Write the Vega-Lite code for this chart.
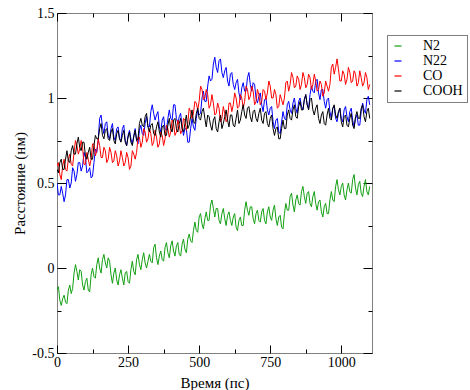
{
 "$schema": "https://vega.github.io/schema/vega-lite/v6.json",
 "width": 315, "height": 340,
 "autosize": {"type": "none"},
 "padding": {"left": 57, "top": 13, "right": 98, "bottom": 37},
 "background": "white",
 "config": {"view": {"stroke": "black", "strokeWidth": 1, "strokeDash": [1, 1]},
  "axis": {"labelFont": "Liberation Serif", "titleFont": "Liberation Serif", "titleFontWeight": "normal", "labelFontWeight": "normal", "labelColor": "black", "titleColor": "black"},
  "legend": {"strokeDash": [1, 1], "labelFont": "Liberation Serif"}},
 "data": {"values": [
  {"t":0,"N2":-0.13,"N22":0.5,"CO":0.6,"COOH":0.58},
  {"t":10,"N2":-0.19,"N22":0.43,"CO":0.55,"COOH":0.62},
  {"t":20,"N2":-0.18,"N22":0.44,"CO":0.6,"COOH":0.58},
  {"t":30,"N2":-0.2,"N22":0.43,"CO":0.58,"COOH":0.64},
  {"t":40,"N2":-0.13,"N22":0.52,"CO":0.64,"COOH":0.63},
  {"t":50,"N2":-0.15,"N22":0.5,"CO":0.61,"COOH":0.69},
  {"t":60,"N2":-0.03,"N22":0.57,"CO":0.68,"COOH":0.67},
  {"t":70,"N2":-0.02,"N22":0.55,"CO":0.72,"COOH":0.73},
  {"t":80,"N2":-0.01,"N22":0.62,"CO":0.7,"COOH":0.71},
  {"t":90,"N2":-0.1,"N22":0.6,"CO":0.71,"COOH":0.74},
  {"t":100,"N2":-0.08,"N22":0.65,"CO":0.61,"COOH":0.66},
  {"t":110,"N2":-0.13,"N22":0.57,"CO":0.64,"COOH":0.68},
  {"t":120,"N2":-0.04,"N22":0.53,"CO":0.64,"COOH":0.64},
  {"t":130,"N2":-0.05,"N22":0.62,"CO":0.73,"COOH":0.72},
  {"t":140,"N2":0.02,"N22":0.68,"CO":0.69,"COOH":0.76},
  {"t":150,"N2":0.0,"N22":0.88,"CO":0.72,"COOH":0.82},
  {"t":160,"N2":0.05,"N22":0.83,"CO":0.65,"COOH":0.78},
  {"t":170,"N2":0.03,"N22":0.85,"CO":0.69,"COOH":0.81},
  {"t":180,"N2":0.06,"N22":0.78,"CO":0.64,"COOH":0.76},
  {"t":190,"N2":-0.04,"N22":0.82,"CO":0.68,"COOH":0.8},
  {"t":200,"N2":-0.03,"N22":0.77,"CO":0.63,"COOH":0.75},
  {"t":210,"N2":-0.07,"N22":0.82,"CO":0.66,"COOH":0.79},
  {"t":220,"N2":-0.04,"N22":0.76,"CO":0.63,"COOH":0.76},
  {"t":230,"N2":-0.06,"N22":0.82,"CO":0.65,"COOH":0.78},
  {"t":240,"N2":-0.03,"N22":0.75,"CO":0.62,"COOH":0.74},
  {"t":250,"N2":-0.08,"N22":0.78,"CO":0.65,"COOH":0.77},
  {"t":260,"N2":-0.01,"N22":0.76,"CO":0.6,"COOH":0.74},
  {"t":270,"N2":-0.02,"N22":0.78,"CO":0.67,"COOH":0.77},
  {"t":280,"N2":0.05,"N22":0.75,"CO":0.68,"COOH":0.75},
  {"t":290,"N2":0.02,"N22":0.81,"CO":0.77,"COOH":0.85},
  {"t":300,"N2":0.05,"N22":0.79,"CO":0.74,"COOH":0.84},
  {"t":310,"N2":0.03,"N22":0.85,"CO":0.8,"COOH":0.89},
  {"t":320,"N2":0.04,"N22":0.83,"CO":0.76,"COOH":0.83},
  {"t":330,"N2":0.04,"N22":0.92,"CO":0.79,"COOH":0.84},
  {"t":340,"N2":0.12,"N22":0.91,"CO":0.74,"COOH":0.79},
  {"t":350,"N2":0.06,"N22":0.9,"CO":0.77,"COOH":0.83},
  {"t":360,"N2":0.07,"N22":0.83,"CO":0.73,"COOH":0.8},
  {"t":370,"N2":0.05,"N22":0.87,"CO":0.78,"COOH":0.83},
  {"t":380,"N2":0.12,"N22":0.82,"CO":0.76,"COOH":0.78},
  {"t":390,"N2":0.09,"N22":0.88,"CO":0.82,"COOH":0.84},
  {"t":400,"N2":0.13,"N22":0.88,"CO":0.8,"COOH":0.82},
  {"t":410,"N2":0.1,"N22":0.96,"CO":0.85,"COOH":0.87},
  {"t":420,"N2":0.13,"N22":0.88,"CO":0.8,"COOH":0.82},
  {"t":430,"N2":0.08,"N22":0.89,"CO":0.84,"COOH":0.85},
  {"t":440,"N2":0.14,"N22":0.83,"CO":0.81,"COOH":0.82},
  {"t":450,"N2":0.11,"N22":0.82,"CO":0.87,"COOH":0.85},
  {"t":460,"N2":0.17,"N22":0.74,"CO":0.85,"COOH":0.82},
  {"t":470,"N2":0.16,"N22":0.82,"CO":0.92,"COOH":0.89},
  {"t":480,"N2":0.22,"N22":0.83,"CO":0.91,"COOH":0.86},
  {"t":490,"N2":0.22,"N22":0.88,"CO":0.97,"COOH":0.91},
  {"t":500,"N2":0.3,"N22":0.9,"CO":0.98,"COOH":0.88},
  {"t":510,"N2":0.26,"N22":1.0,"CO":1.05,"COOH":0.92},
  {"t":520,"N2":0.29,"N22":0.98,"CO":1.0,"COOH":0.88},
  {"t":530,"N2":0.28,"N22":1.07,"CO":1.02,"COOH":0.9},
  {"t":540,"N2":0.37,"N22":1.1,"CO":0.96,"COOH":0.84},
  {"t":550,"N2":0.35,"N22":1.2,"CO":0.97,"COOH":0.87},
  {"t":560,"N2":0.35,"N22":1.18,"CO":0.91,"COOH":0.82},
  {"t":570,"N2":0.28,"N22":1.22,"CO":0.94,"COOH":0.86},
  {"t":580,"N2":0.32,"N22":1.15,"CO":0.88,"COOH":0.82},
  {"t":590,"N2":0.29,"N22":1.16,"CO":0.91,"COOH":0.89},
  {"t":600,"N2":0.31,"N22":1.1,"CO":0.88,"COOH":0.87},
  {"t":610,"N2":0.28,"N22":1.14,"CO":0.97,"COOH":0.9},
  {"t":620,"N2":0.3,"N22":1.08,"CO":0.96,"COOH":0.84},
  {"t":630,"N2":0.24,"N22":1.09,"CO":1.0,"COOH":0.88},
  {"t":640,"N2":0.28,"N22":1.03,"CO":0.95,"COOH":0.85},
  {"t":650,"N2":0.25,"N22":1.06,"CO":1.0,"COOH":0.92},
  {"t":660,"N2":0.34,"N22":1.04,"CO":0.98,"COOH":0.9},
  {"t":670,"N2":0.34,"N22":1.12,"CO":1.05,"COOH":0.94},
  {"t":680,"N2":0.36,"N22":1.08,"CO":1.01,"COOH":0.89},
  {"t":690,"N2":0.29,"N22":1.09,"CO":1.04,"COOH":0.92},
  {"t":700,"N2":0.32,"N22":1.0,"CO":0.98,"COOH":0.88},
  {"t":710,"N2":0.28,"N22":1.01,"CO":1.02,"COOH":0.91},
  {"t":720,"N2":0.33,"N22":0.96,"CO":0.98,"COOH":0.87},
  {"t":730,"N2":0.28,"N22":0.99,"CO":1.04,"COOH":0.91},
  {"t":740,"N2":0.33,"N22":0.93,"CO":1.03,"COOH":0.85},
  {"t":750,"N2":0.3,"N22":0.94,"CO":1.07,"COOH":0.88},
  {"t":760,"N2":0.34,"N22":0.86,"CO":1.0,"COOH":0.82},
  {"t":770,"N2":0.29,"N22":0.87,"CO":1.02,"COOH":0.82},
  {"t":780,"N2":0.3,"N22":0.8,"CO":0.95,"COOH":0.76},
  {"t":790,"N2":0.24,"N22":0.86,"CO":0.99,"COOH":0.82},
  {"t":800,"N2":0.32,"N22":0.88,"CO":1.0,"COOH":0.82},
  {"t":810,"N2":0.34,"N22":0.96,"CO":1.1,"COOH":0.9},
  {"t":820,"N2":0.42,"N22":0.93,"CO":1.08,"COOH":0.88},
  {"t":830,"N2":0.37,"N22":0.97,"CO":1.12,"COOH":0.93},
  {"t":840,"N2":0.4,"N22":0.94,"CO":1.07,"COOH":0.89},
  {"t":850,"N2":0.38,"N22":0.98,"CO":1.11,"COOH":0.95},
  {"t":860,"N2":0.45,"N22":0.95,"CO":1.08,"COOH":0.93},
  {"t":870,"N2":0.42,"N22":0.99,"CO":1.12,"COOH":0.99},
  {"t":880,"N2":0.44,"N22":0.96,"CO":1.08,"COOH":0.96},
  {"t":890,"N2":0.38,"N22":1.02,"CO":1.12,"COOH":0.99},
  {"t":900,"N2":0.42,"N22":1.04,"CO":1.08,"COOH":0.93},
  {"t":910,"N2":0.38,"N22":1.1,"CO":1.1,"COOH":0.94},
  {"t":920,"N2":0.39,"N22":1.03,"CO":1.05,"COOH":0.88},
  {"t":930,"N2":0.33,"N22":1.05,"CO":1.08,"COOH":0.9},
  {"t":940,"N2":0.36,"N22":0.98,"CO":1.03,"COOH":0.85},
  {"t":950,"N2":0.32,"N22":0.99,"CO":1.07,"COOH":0.9},
  {"t":960,"N2":0.4,"N22":0.92,"CO":1.08,"COOH":0.88},
  {"t":970,"N2":0.4,"N22":0.94,"CO":1.2,"COOH":0.94},
  {"t":980,"N2":0.48,"N22":0.88,"CO":1.18,"COOH":0.9},
  {"t":990,"N2":0.46,"N22":0.91,"CO":1.17,"COOH":0.92},
  {"t":1000,"N2":0.48,"N22":0.88,"CO":1.1,"COOH":0.86},
  {"t":1010,"N2":0.43,"N22":0.93,"CO":1.14,"COOH":0.89},
  {"t":1020,"N2":0.46,"N22":0.89,"CO":1.11,"COOH":0.84},
  {"t":1030,"N2":0.45,"N22":0.92,"CO":1.15,"COOH":0.88},
  {"t":1040,"N2":0.52,"N22":0.87,"CO":1.1,"COOH":0.84},
  {"t":1050,"N2":0.47,"N22":0.88,"CO":1.14,"COOH":0.89},
  {"t":1060,"N2":0.49,"N22":0.84,"CO":1.09,"COOH":0.88},
  {"t":1070,"N2":0.44,"N22":0.92,"CO":1.12,"COOH":0.94},
  {"t":1080,"N2":0.48,"N22":0.93,"CO":1.09,"COOH":0.89},
  {"t":1090,"N2":0.45,"N22":0.99,"CO":1.12,"COOH":0.92},
  {"t":1100,"N2":0.48,"N22":0.96,"CO":1.08,"COOH":0.88},
  {"t":5,"N2":-0.11,"N22":0.43,"CO":0.62,"COOH":0.56},
  {"t":15,"N2":-0.22,"N22":0.48,"CO":0.52,"COOH":0.64},
  {"t":25,"N2":-0.16,"N22":0.39,"CO":0.64,"COOH":0.58},
  {"t":35,"N2":-0.21,"N22":0.52,"CO":0.57,"COOH":0.69},
  {"t":45,"N2":-0.1,"N22":0.47,"CO":0.67,"COOH":0.62},
  {"t":55,"N2":-0.12,"N22":0.59,"CO":0.6,"COOH":0.72},
  {"t":65,"N2":0.02,"N22":0.51,"CO":0.75,"COOH":0.67},
  {"t":75,"N2":-0.07,"N22":0.62,"CO":0.67,"COOH":0.77},
  {"t":85,"N2":-0.02,"N22":0.57,"CO":0.75,"COOH":0.69},
  {"t":95,"N2":-0.13,"N22":0.68,"CO":0.61,"COOH":0.74},
  {"t":105,"N2":-0.06,"N22":0.56,"CO":0.68,"COOH":0.64},
  {"t":115,"N2":-0.14,"N22":0.59,"CO":0.6,"COOH":0.71},
  {"t":125,"N2":0.0,"N22":0.54,"CO":0.73,"COOH":0.64},
  {"t":135,"N2":-0.06,"N22":0.7,"CO":0.66,"COOH":0.78},
  {"t":145,"N2":0.06,"N22":0.75,"CO":0.76,"COOH":0.76},
  {"t":155,"N2":-0.03,"N22":0.9,"CO":0.65,"COOH":0.85},
  {"t":165,"N2":0.08,"N22":0.79,"CO":0.71,"COOH":0.76},
  {"t":175,"N2":0.0,"N22":0.86,"CO":0.62,"COOH":0.82},
  {"t":185,"N2":0.04,"N22":0.76,"CO":0.71,"COOH":0.75},
  {"t":195,"N2":-0.09,"N22":0.85,"CO":0.62,"COOH":0.82},
  {"t":205,"N2":0.0,"N22":0.75,"CO":0.69,"COOH":0.73},
  {"t":215,"N2":-0.1,"N22":0.83,"CO":0.6,"COOH":0.81},
  {"t":225,"N2":-0.01,"N22":0.75,"CO":0.69,"COOH":0.74},
  {"t":235,"N2":-0.1,"N22":0.84,"CO":0.6,"COOH":0.81},
  {"t":245,"N2":-0.02,"N22":0.72,"CO":0.68,"COOH":0.72},
  {"t":255,"N2":-0.09,"N22":0.81,"CO":0.58,"COOH":0.8},
  {"t":265,"N2":0.04,"N22":0.73,"CO":0.69,"COOH":0.72},
  {"t":275,"N2":-0.04,"N22":0.82,"CO":0.64,"COOH":0.81},
  {"t":285,"N2":0.08,"N22":0.73,"CO":0.77,"COOH":0.76},
  {"t":295,"N2":-0.01,"N22":0.84,"CO":0.71,"COOH":0.88},
  {"t":305,"N2":0.09,"N22":0.78,"CO":0.82,"COOH":0.83},
  {"t":315,"N2":0.0,"N22":0.89,"CO":0.74,"COOH":0.91},
  {"t":325,"N2":0.08,"N22":0.83,"CO":0.82,"COOH":0.8},
  {"t":335,"N2":0.03,"N22":0.96,"CO":0.72,"COOH":0.85},
  {"t":345,"N2":0.14,"N22":0.87,"CO":0.81,"COOH":0.78},
  {"t":355,"N2":0.02,"N22":0.92,"CO":0.71,"COOH":0.86},
  {"t":365,"N2":0.1,"N22":0.8,"CO":0.8,"COOH":0.77},
  {"t":375,"N2":0.04,"N22":0.89,"CO":0.72,"COOH":0.84},
  {"t":385,"N2":0.15,"N22":0.81,"CO":0.84,"COOH":0.78},
  {"t":395,"N2":0.06,"N22":0.93,"CO":0.77,"COOH":0.88},
  {"t":405,"N2":0.16,"N22":0.87,"CO":0.87,"COOH":0.8},
  {"t":415,"N2":0.07,"N22":0.96,"CO":0.78,"COOH":0.88},
  {"t":425,"N2":0.15,"N22":0.85,"CO":0.87,"COOH":0.8},
  {"t":435,"N2":0.07,"N22":0.91,"CO":0.79,"COOH":0.88},
  {"t":445,"N2":0.17,"N22":0.78,"CO":0.88,"COOH":0.8},
  {"t":455,"N2":0.09,"N22":0.82,"CO":0.81,"COOH":0.9},
  {"t":465,"N2":0.2,"N22":0.74,"CO":0.94,"COOH":0.84},
  {"t":475,"N2":0.15,"N22":0.88,"CO":0.88,"COOH":0.93},
  {"t":485,"N2":0.27,"N22":0.81,"CO":0.98,"COOH":0.85},
  {"t":495,"N2":0.21,"N22":0.93,"CO":0.93,"COOH":0.94},
  {"t":505,"N2":0.32,"N22":0.91,"CO":1.07,"COOH":0.87},
  {"t":515,"N2":0.23,"N22":1.04,"CO":0.99,"COOH":0.94},
  {"t":525,"N2":0.33,"N22":0.98,"CO":1.05,"COOH":0.83},
  {"t":535,"N2":0.28,"N22":1.13,"CO":0.94,"COOH":0.89},
  {"t":545,"N2":0.4,"N22":1.11,"CO":1.02,"COOH":0.81},
  {"t":555,"N2":0.3,"N22":1.24,"CO":0.9,"COOH":0.89},
  {"t":565,"N2":0.35,"N22":1.15,"CO":0.97,"COOH":0.8},
  {"t":575,"N2":0.26,"N22":1.23,"CO":0.86,"COOH":0.9},
  {"t":585,"N2":0.35,"N22":1.12,"CO":0.95,"COOH":0.85},
  {"t":595,"N2":0.25,"N22":1.18,"CO":0.86,"COOH":0.93},
  {"t":605,"N2":0.33,"N22":1.07,"CO":0.97,"COOH":0.83},
  {"t":615,"N2":0.25,"N22":1.15,"CO":0.92,"COOH":0.9},
  {"t":625,"N2":0.32,"N22":1.05,"CO":1.03,"COOH":0.83},
  {"t":635,"N2":0.22,"N22":1.11,"CO":0.94,"COOH":0.93},
  {"t":645,"N2":0.3,"N22":0.99,"CO":1.02,"COOH":0.87},
  {"t":655,"N2":0.25,"N22":1.09,"CO":0.94,"COOH":0.96},
  {"t":665,"N2":0.39,"N22":1.04,"CO":1.07,"COOH":0.88},
  {"t":675,"N2":0.31,"N22":1.15,"CO":0.99,"COOH":0.95},
  {"t":685,"N2":0.36,"N22":1.04,"CO":1.07,"COOH":0.86},
  {"t":695,"N2":0.26,"N22":1.08,"CO":0.96,"COOH":0.93},
  {"t":705,"N2":0.34,"N22":0.97,"CO":1.05,"COOH":0.86},
  {"t":715,"N2":0.27,"N22":1.03,"CO":0.96,"COOH":0.94},
  {"t":725,"N2":0.35,"N22":0.92,"CO":1.05,"COOH":0.85},
  {"t":735,"N2":0.26,"N22":1.0,"CO":0.99,"COOH":0.92},
  {"t":745,"N2":0.36,"N22":0.9,"CO":1.1,"COOH":0.83},
  {"t":755,"N2":0.28,"N22":0.95,"CO":1.0,"COOH":0.9},
  {"t":765,"N2":0.37,"N22":0.82,"CO":1.05,"COOH":0.78},
  {"t":775,"N2":0.25,"N22":0.88,"CO":0.94,"COOH":0.83},
  {"t":785,"N2":0.31,"N22":0.79,"CO":1.02,"COOH":0.76},
  {"t":795,"N2":0.23,"N22":0.92,"CO":0.96,"COOH":0.87},
  {"t":805,"N2":0.38,"N22":0.87,"CO":1.09,"COOH":0.82},
  {"t":815,"N2":0.34,"N22":0.98,"CO":1.04,"COOH":0.93},
  {"t":825,"N2":0.44,"N22":0.91,"CO":1.15,"COOH":0.87},
  {"t":835,"N2":0.33,"N22":1.0,"CO":1.06,"COOH":0.96},
  {"t":845,"N2":0.43,"N22":0.91,"CO":1.13,"COOH":0.88},
  {"t":855,"N2":0.37,"N22":1.0,"CO":1.05,"COOH":0.98},
  {"t":865,"N2":0.48,"N22":0.93,"CO":1.15,"COOH":0.93},
  {"t":875,"N2":0.38,"N22":1.02,"CO":1.06,"COOH":1.02},
  {"t":885,"N2":0.45,"N22":0.94,"CO":1.14,"COOH":0.93},
  {"t":895,"N2":0.36,"N22":1.07,"CO":1.05,"COOH":1.0},
  {"t":905,"N2":0.45,"N22":1.03,"CO":1.14,"COOH":0.9},
  {"t":915,"N2":0.34,"N22":1.11,"CO":1.04,"COOH":0.96},
  {"t":925,"N2":0.4,"N22":0.99,"CO":1.1,"COOH":0.85},
  {"t":935,"N2":0.3,"N22":1.05,"CO":1.01,"COOH":0.92},
  {"t":945,"N2":0.38,"N22":0.94,"CO":1.1,"COOH":0.84},
  {"t":955,"N2":0.32,"N22":1.0,"CO":1.04,"COOH":0.94},
  {"t":965,"N2":0.45,"N22":0.88,"CO":1.18,"COOH":0.87},
  {"t":975,"N2":0.39,"N22":0.95,"CO":1.14,"COOH":0.96},
  {"t":985,"N2":0.52,"N22":0.86,"CO":1.23,"COOH":0.88},
  {"t":995,"N2":0.43,"N22":0.94,"CO":1.1,"COOH":0.94},
  {"t":1005,"N2":0.5,"N22":0.86,"CO":1.16,"COOH":0.83},
  {"t":1015,"N2":0.4,"N22":0.95,"CO":1.08,"COOH":0.9},
  {"t":1025,"N2":0.5,"N22":0.86,"CO":1.18,"COOH":0.83},
  {"t":1035,"N2":0.44,"N22":0.94,"CO":1.09,"COOH":0.91},
  {"t":1045,"N2":0.55,"N22":0.83,"CO":1.16,"COOH":0.82},
  {"t":1055,"N2":0.43,"N22":0.9,"CO":1.07,"COOH":0.92},
  {"t":1065,"N2":0.51,"N22":0.84,"CO":1.16,"COOH":0.88},
  {"t":1075,"N2":0.42,"N22":0.97,"CO":1.07,"COOH":0.96},
  {"t":1085,"N2":0.52,"N22":0.91,"CO":1.15,"COOH":0.86},
  {"t":1095,"N2":0.43,"N22":1.01,"CO":1.05,"COOH":0.94}
 ]},
 "transform": [{"fold": ["N2", "N22", "CO", "COOH"], "as": ["series", "value"]}],
 "layer": [
  {
   "mark": {"type": "line", "strokeWidth": 1, "clip": true},
   "encoding": {
    "x": {"field": "t", "type": "quantitative",
     "scale": {"domain": [0, 1108], "nice": false, "zero": false},
     "axis": {"orient": "bottom", "values": [0,125,250,375,500,625,750,875,1000],
      "labelExpr": "datum.value % 250 == 0 ? '' + datum.value : ''",
      "tickSize": {"condition": {"test": "datum.value % 250 == 0", "value": -8}, "value": -4},
      "tickColor": "black", "domain": false, "grid": false,
      "labelFont": "Liberation Serif", "labelFontSize": 14,
      "labelFlush": false, "labelOverlap": false, "labelPadding": 10,
      "title": "Время (пс)", "titleFont": "Liberation Serif", "titleFontSize": 15,
      "titleFontWeight": "normal", "titlePadding": 2}},
    "y": {"field": "value", "type": "quantitative",
     "scale": {"domain": [-0.5, 1.5], "nice": false, "zero": false},
     "axis": {"orient": "left", "values": [-0.5,-0.25,0,0.25,0.5,0.75,1,1.25,1.5],
      "labelExpr": "(datum.value * 4) % 2 == 0 ? '' + datum.value : ''",
      "tickSize": {"condition": {"test": "(datum.value * 4) % 2 == 0", "value": -9}, "value": -4},
      "tickColor": "black", "domain": false, "grid": false,
      "labelFont": "Liberation Serif", "labelFontSize": 14,
      "labelFlush": false, "labelOverlap": false, "labelPadding": 12,
      "title": "Расстояние (нм)", "titleFont": "Liberation Serif", "titleFontSize": 15,
      "titleFontWeight": "normal", "titlePadding": 4}},
    "color": {"field": "series", "type": "nominal",
     "scale": {"domain": ["N2", "N22", "CO", "COOH"], "range": ["#12a012", "#0000ff", "#ff0000", "#000000"]},
     "legend": {"title": null, "orient": "none", "legendX": 330, "legendY": 22,
      "strokeColor": "black", "padding": 4, "fillColor": "white",
      "symbolType": "stroke", "symbolSize": 49, "symbolStrokeWidth": 1.2,
      "labelFont": "Liberation Serif", "labelFontSize": 14, "labelColor": "black",
      "labelOffset": 18, "rowPadding": 1}}
   }
  },
  {
   "mark": {"type": "line", "opacity": 0},
   "encoding": {
    "x": {"field": "t", "type": "quantitative",
     "axis": {"orient": "top", "values": [0,125,250,375,500,625,750,875,1000],
      "labels": false, "title": null, "domain": false, "grid": false, "tickColor": "black",
      "tickSize": {"condition": {"test": "datum.value % 250 == 0", "value": -8}, "value": -4}}},
    "y": {"field": "value", "type": "quantitative",
     "axis": {"orient": "right", "values": [-0.5,-0.25,0,0.25,0.5,0.75,1,1.25,1.5],
      "labels": false, "title": null, "domain": false, "grid": false, "tickColor": "black",
      "tickSize": {"condition": {"test": "(datum.value * 4) % 2 == 0", "value": -9}, "value": -4}}}
   }
  }
 ],
 "resolve": {"axis": {"x": "independent", "y": "independent"}}
}
